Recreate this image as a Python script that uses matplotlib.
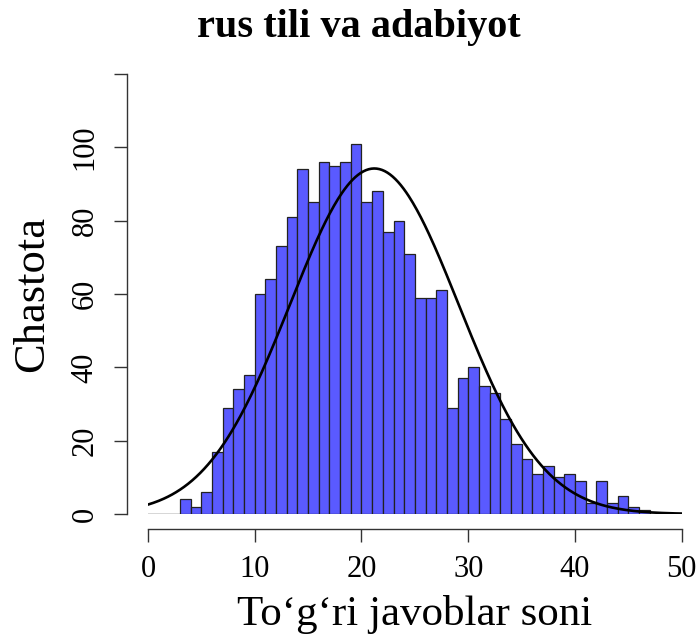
import numpy as np
import matplotlib
matplotlib.use("Agg")
import matplotlib.pyplot as plt

title = "rus tili va adabiyot"
xlabel = "To\u2018g\u2018ri javoblar soni"
ylabel = "Chastota"

bin_left = list(range(3, 47))
counts = [4, 2, 6, 17, 29, 34, 38, 60, 64, 73, 81, 94, 85, 96, 95, 96, 101,
          85, 88, 77, 80, 71, 59, 59, 61, 29, 37, 40, 35, 33, 26, 19, 15, 11,
          13, 10, 11, 9, 3, 9, 3, 5, 2, 1]

# normal curve parameters
curve_mean = 21.2
curve_sd = 7.9
curve_n = sum(counts)

xticks = [0, 10, 20, 30, 40, 50]
yticks = [0, 20, 40, 60, 80, 100, 120]
ytick_labels = ["0", "20", "40", "60", "80", "100", ""]

W, H = 699, 636
PX = 72 / 100  # points per pixel
fig = plt.figure(figsize=(W / 100, H / 100), dpi=100)
ax = fig.add_axes([148 / W, 1 - 514 / H, (681.7 - 148) / W, (514 - 74) / H])

serif = ["Liberation Serif", "DejaVu Serif"]

ax.bar(bin_left, counts, width=1.0, align="edge", color="#5A5AFF",
       edgecolor="#222222", linewidth=0.9, zorder=2)

xs = np.linspace(0, 50, 400)
ys = curve_n * np.exp(-0.5 * ((xs - curve_mean) / curve_sd) ** 2) / (curve_sd * np.sqrt(2 * np.pi))
ax.plot(xs, ys, color="black", linewidth=1.9, zorder=3)
ax.plot([0, 50], [0, 0], color="#333333", linewidth=1.0, zorder=1)

ax.set_xlim(0, 50)
ax.set_ylim(0, 120)
for s in ["top", "right"]:
    ax.spines[s].set_visible(False)
ax.spines["left"].set_position(("outward", 21 * PX))
ax.spines["bottom"].set_position(("outward", 14.5 * PX))
ax.spines["left"].set_bounds(0, 120)
ax.spines["bottom"].set_bounds(0, 50)
for s in ["left", "bottom"]:
    ax.spines[s].set_color("#333333")
    ax.spines[s].set_linewidth(1.0)

ax.set_xticks(xticks)
ax.set_xticklabels([str(v) for v in xticks], fontfamily=serif, fontsize=22)
ax.set_yticks(yticks)
ax.set_yticklabels(ytick_labels, fontfamily=serif, fontsize=22, rotation=90, va="center")
ax.tick_params(axis="both", length=13 * PX, width=1.0, color="#333333")
ax.tick_params(axis="x", pad=10)
ax.tick_params(axis="y", pad=10.5)

ax.set_xlabel(xlabel, fontfamily=serif, fontsize=31, va="center")
ax.xaxis.set_label_coords(0.5, (514 - 614) / 440)
ax.set_ylabel(ylabel, fontfamily=serif, fontsize=32, va="center")
ax.yaxis.set_label_coords((32 - 148) / 533.7, 0.5)
fig.text(359 / W, 1 - 27 / H, title, ha="center", va="center",
         fontfamily=serif, fontweight="bold", fontsize=29)

fig.savefig("out.png", dpi=100)
